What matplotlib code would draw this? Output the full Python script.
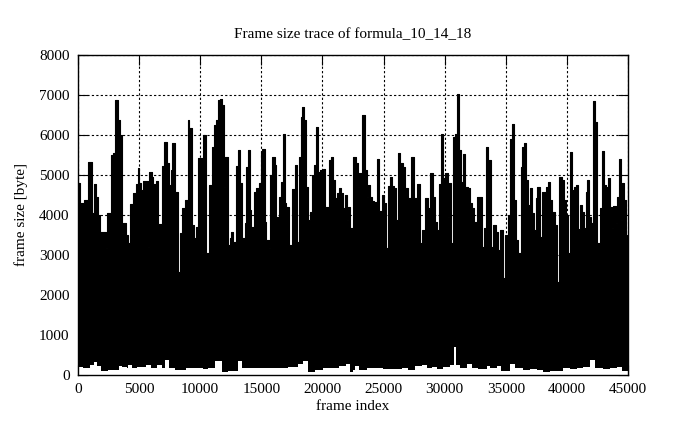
import matplotlib
matplotlib.use("Agg")
import matplotlib.pyplot as plt
import numpy as np

# Upper envelope of the frame-size trace: (segment start frame, peak size in bytes)
peak_frame = [0, 136, 300, 491, 845, 1118, 1309, 1473, 1664, 1800, 2264, 2400, 2673, 2836,
              3027, 3300, 3436, 3573, 3709, 3900, 4118, 4282, 4527, 4718, 4882, 5018, 5155,
              5345, 5700, 5809, 6027, 6164, 6382, 6573, 6900, 7064, 7255, 7445, 7609, 7718,
              7936, 8155, 8318, 8536, 8755, 8973, 9109, 9300, 9464, 9627, 9845, 10118, 10255,
              10445, 10718, 10936, 11100,
              11318, 11455, 11591, 11782, 11918, 12055, 12245, 12409, 12545, 12682, 12900,
              13091, 13282, 13418, 13636, 13773, 13909, 14045, 14182, 14373, 14591, 14782,
              14945, 15082, 15273, 15409, 15600, 15736, 15900, 16091, 16227, 16445, 16636,
              16773, 16909, 17045, 17264, 17536, 17727, 17918, 18082, 18218, 18355, 18518,
              18682, 18818, 19009, 19173, 19309, 19500, 19664, 19827, 20045, 20209, 20536,
              20727, 20864, 21000, 21191, 21355, 21545, 21682, 21845, 22009, 22118, 22282,
              22527, 22745, 22882, 23018, 23209, 23482, 23618, 23755, 23918, 24055, 24245,
              24464, 24655, 24845, 25009, 25173, 25336, 25527, 25664, 25827, 26018, 26209,
              26345, 26564, 26755, 27027, 27245, 27518, 27736, 27955, 28118, 28282, 28391,
              28664, 28827, 29018, 29209, 29373, 29564, 29700, 29836, 30055, 30245, 30382,
              30518, 30709, 30845, 31009, 31173, 31336, 31500, 31664, 31882, 32045, 32209,
              32427, 32645, 33027, 33191, 33382, 33573,
              33763, 33955, 34173, 34336, 34527, 34773, 34936, 35209, 35345, 35482, 35673,
              35809, 36000, 36218, 36354, 36491, 36682, 36845, 36982, 37118, 37309, 37445,
              37582, 37773, 37936, 38318, 38482, 38591, 38809, 39000, 39218, 39354, 39573,
              39764, 39954, 40118, 40254, 40445, 40582, 40718, 40909, 41045, 41209, 41400,
              41536, 41673, 41809, 41945, 42136, 42300, 42491, 42682, 42845, 43036, 43172,
              43363, 43527, 43663, 43773, 43991, 44127, 44263, 44400, 44536, 44672, 44809,
              44930]
peak_size = [4800, 4290, 4300, 4380, 5330, 4040, 4770, 4460, 4000, 3580, 3170, 4040, 5500, 5540,
             6875, 6375, 6000, 3540, 3790, 3500, 3290, 4270, 4540, 4775, 5170, 4790, 4625,
             4850, 3200, 5075, 4960, 4770, 4850, 3775, 5225, 5835, 5290, 4750, 5125, 5790,
             4580, 2580, 3540, 4170, 4375, 6375, 6170, 3750, 3420, 3710, 5415, 3040, 6000,
             3060, 4750, 5710, 6250,
             6375, 6875, 6890, 6750, 4710, 5440, 3250, 3420, 3580, 3330, 5225,
             5625, 4790, 3420, 3790, 5210, 5625, 4125, 3710, 4580, 4670, 4790,
             5585, 5650, 3830, 3375, 3170, 5000, 5460, 5250, 3960, 4460, 4830,
             6025, 4290, 4210, 3250, 4640, 5250, 3330, 5460, 6460, 6710, 6375,
             4710, 3875, 4080, 5000, 5250, 6210, 5080, 5125, 5140, 4210, 5375,
             5440, 4875, 4415, 4540, 4670, 4540, 4170, 4500, 3875, 4210, 3670,
             5460, 5290, 4690, 5040, 6500, 5125, 4460, 4750, 4460, 4360, 4330,
             5400, 4100, 4500, 4290, 3170, 4725, 4960, 4725, 4670, 3875, 5560,
             5290, 5210, 4670, 4415, 5440, 4415, 4770, 3290, 3625, 3290, 4415,
             4170, 5040, 4460, 3830, 3625, 4775, 6025, 4920, 5060, 3960, 4790,
             3290, 5940, 6025, 7025, 5625, 4830, 5525, 4690, 4670, 4290, 4170,
             3830, 4440, 3210, 3670, 5690, 5375,
             3210, 3750, 3580, 3125, 3625, 2420, 3500, 4000, 5890, 6275, 4375,
             3375, 3040, 5210, 5710, 5790, 4875, 4250, 4670, 4040, 3625, 4415,
             4710, 3460, 4580, 4710, 4830, 4375, 4080, 3750, 2335, 4940, 4875,
             4375, 4000, 3040, 5585, 4625, 4710, 4750, 3640, 4250, 4080, 3670,
             4580, 4875, 3960, 3790, 6860, 6330, 3290, 4170, 5610, 4750, 4710,
             4920, 4210, 3670, 4230, 3790, 4460, 5390, 3875, 4810, 4375, 3500,
             3000]

# Lower envelope of the trace: (segment start frame, trough size in bytes)
trough_frame = [0, 437, 982, 1337, 1555, 1882, 2482, 3382, 3627, 3982, 4118, 4445, 4827, 5155,
                5536, 5973, 6491, 6845, 7118, 7445, 7936, 8836, 9382, 9764, 10200, 10664,
                11209, 11809, 12300, 13064, 13445, 14073, 14618, 16118, 17209, 17973, 18409,
                18791, 19391, 20073, 20700, 21382, 21927, 22255, 22500, 22664, 23018, 23673,
                24300, 24982, 26482, 27027, 27573, 28118, 28527, 28936, 29345, 29891, 30436,
                30800, 30950, 31255, 31800, 32209, 32755, 33436, 33709, 34255, 34609, 35345,
                35755, 36436, 36982, 37527, 38073, 38618, 39709, 40255, 40800, 41345, 41891,
                42300, 42982, 43527, 44073, 44482]
trough_size = [210, 170, 250, 333, 230, 100, 125, 230, 208, 170, 250, 167, 208, 200,
               250, 180, 250, 170, 367, 167, 125, 167, 183, 167, 142, 167,
               350, 83, 100, 350, 167, 183, 167, 183, 208, 267, 350,
               67, 117, 167, 183, 233, 267, 83, 125, 233, 125, 167,
               183, 150, 183, 125, 233, 250, 167, 208, 150, 208, 250,
               690, 250, 167, 267, 167, 150, 233, 183, 233, 100, 267,
               167, 125, 150, 117, 83, 100, 167, 150, 167, 208, 375,
               183, 150, 167, 208, 100]

x_ticks = [0, 5000, 10000, 15000, 20000, 25000, 30000, 35000, 40000, 45000]
y_ticks = [0, 1000, 2000, 3000, 4000, 5000, 6000, 7000, 8000]

plt.rcParams['font.family'] = ['Liberation Serif', 'DejaVu Serif']
plt.rcParams['font.size'] = 11

fig = plt.figure(figsize=(6.95, 4.29), dpi=100)
ax = fig.add_axes([0.1122, 0.1259, 0.7914, 0.7459])

pf = np.array(peak_frame + [45000])
ps = np.array(peak_size + [peak_size[-1]])
tf = np.array(trough_frame + [45000])
ts = np.array(trough_size + [trough_size[-1]])

ax.fill_between(pf, 0, ps, step='post', color='black', linewidth=0.8, zorder=2)
ax.fill_between(tf, 0, ts, step='post', color='white', linewidth=0, zorder=2.1)

ax.set_xlim(0, 45000)
ax.set_ylim(0, 8000)
ax.set_xticks(x_ticks)
ax.set_yticks(y_ticks)
ax.set_axisbelow(True)
ax.grid(True, color='black', linestyle=(0, (2, 2)), linewidth=0.8)
ax.tick_params(direction='in', top=True, right=True, length=7, width=0.8, pad=6)
for s in ax.spines.values():
    s.set_linewidth(1.0)
    s.set_zorder(3)

ax.set_title('Frame size trace of formula_10_14_18', fontsize=11, pad=12)
ax.set_xlabel('frame index', labelpad=3)
ax.set_ylabel('frame size [byte]', labelpad=8)

fig.savefig('out.png', dpi=100)
